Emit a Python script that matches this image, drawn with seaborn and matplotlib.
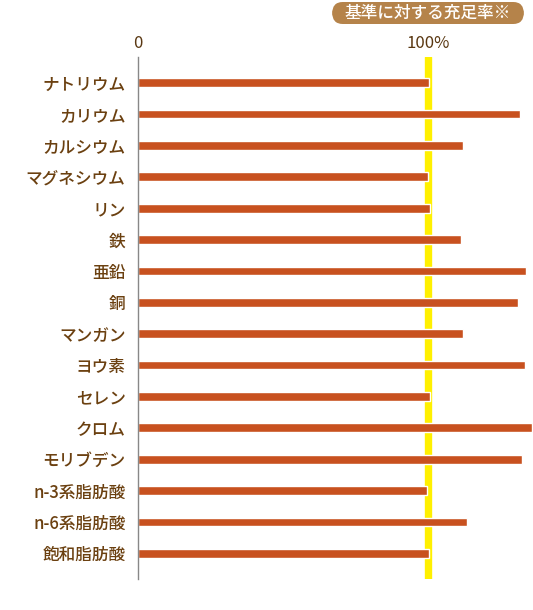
import numpy as np
import pandas as pd
import matplotlib
matplotlib.use("Agg")
import matplotlib.pyplot as plt
import seaborn as sns
from matplotlib.patches import FancyBboxPatch

nutrients = ["ナトリウム", "カリウム", "カルシウム", "マグネシウム", "リン", "鉄",
             "亜鉛", "銅", "マンガン", "ヨウ素", "セレン", "クロム", "モリブデン",
             "n-3系脂肪酸", "n-6系脂肪酸", "飽和脂肪酸"]
ratio = [100.3, 131.8, 112.1, 100.0, 100.7, 111.4, 133.9, 131.1, 112.1,
         133.6, 100.7, 135.8, 132.5, 99.7, 113.5, 100.5]
tick_vals = [0, 100]
tick_text = ["0", "100%"]

df = pd.DataFrame({"nutrient": nutrients, "ratio": ratio})

sns.set_style("white")
plt.rcParams['font.family'] = ['Noto Sans CJK JP', 'DejaVu Sans']

fig = plt.figure(figsize=(5.33, 6.10), dpi=100)
ax = fig.add_axes([138 / 533, 1 - 579 / 610, 1 - 138 / 533, (579 - 57) / 610])

# 100% reference line behind bars
ax.axvline(100, color="#fff000", linewidth=5.3, zorder=1)

sns.barplot(data=df, x="ratio", y="nutrient", color="#c8511f", width=0.28,
            saturation=1, ax=ax, zorder=2)

ax.set_xlim(0, 136.2)
ax.set_ylim(15.82, -0.82)
ax.set_xlabel("")
ax.set_ylabel("")

for s in ["top", "right", "bottom"]:
    ax.spines[s].set_visible(False)
ax.spines["left"].set_color("#888888")
ax.spines["left"].set_linewidth(1)

ax.xaxis.tick_top()
ax.set_xticks(tick_vals)
ax.set_xticklabels(tick_text, fontsize=12, color="#5a3812")
ax.tick_params(axis="x", length=0, pad=3.5)
ax.tick_params(axis="y", length=0, pad=9)
for lbl in ax.get_yticklabels():
    lbl.set_fontsize(12)
    lbl.set_color("#6b4010")
    lbl.set_fontweight("medium")

# badge title
badge = FancyBboxPatch((332 / 533, 1 - 24 / 610), (524 - 332) / 533, 22 / 610,
                       boxstyle="round,pad=0,rounding_size=0.02",
                       transform=fig.transFigure, facecolor="#b5834a",
                       edgecolor="none")
fig.patches.append(badge)
fig.text(428 / 533, 1 - 13 / 610, "基準に対する充足率※", color="white",
         fontsize=12, ha="center", va="center", fontweight="medium")

fig.savefig("out.png", dpi=100)
